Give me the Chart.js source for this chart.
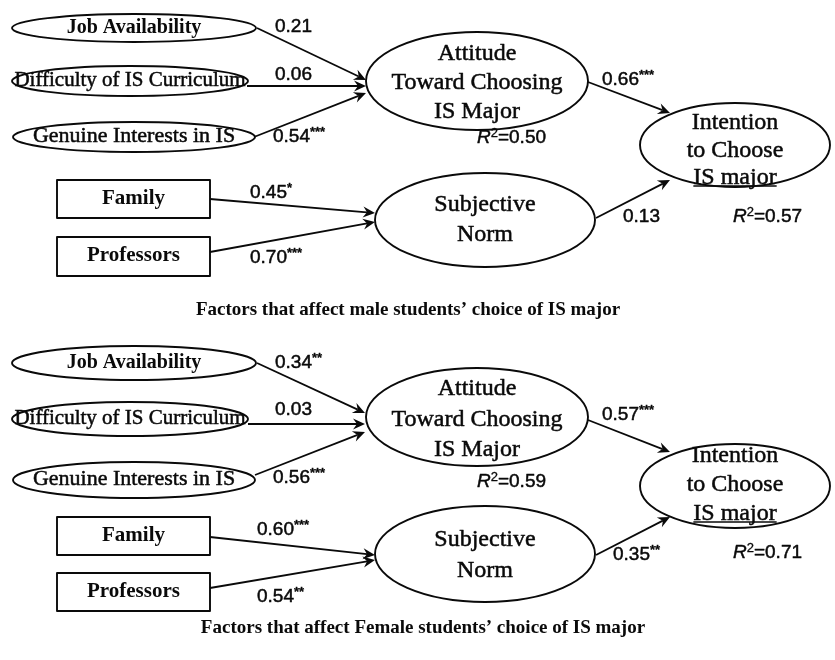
<!DOCTYPE html>
<html>
<head>
<meta charset="utf-8">
<script src="https://cdn.jsdelivr.net/npm/chart.js@4/dist/chart.umd.min.js"></script>
<style>
html,body{margin:0;padding:0;background:#fff;}
canvas{display:block;}
</style>
</head>
<body>
<canvas id="c" width="835" height="660"></canvas>
<script>
// ---------------- DATA ----------------
const panelTitles = [
  "Factors that affect male students\u2019 choice of IS major",
  "Factors that affect Female students\u2019 choice of IS major"
];
const nodeKeys = ["job", "diff", "gen", "fam", "prof", "att", "sn", "int"];
const nodeLabels = [
  ["Job Availability"],
  ["Difficulty of IS Curriculum"],
  ["Genuine Interests in IS"],
  ["Family"],
  ["Professors"],
  ["Attitude", "Toward Choosing", "IS Major"],
  ["Subjective", "Norm"],
  ["Intention", "to Choose", "IS major"]
];
const pathFrom = ["job", "diff", "gen", "fam", "prof", "att", "sn"];
const pathTo   = ["att", "att", "att", "sn", "sn", "int", "int"];
const maleCoef   = [0.21, 0.06, 0.54, 0.45, 0.70, 0.66, 0.13];
const maleSig    = ["", "", "***", "*", "***", "***", ""];
const femaleCoef = [0.34, 0.03, 0.56, 0.60, 0.54, 0.57, 0.35];
const femaleSig  = ["**", "", "***", "***", "**", "***", "**"];
const r2Nodes    = ["att", "int"];
const maleR2     = [0.50, 0.57];
const femaleR2   = [0.59, 0.71];

// ---------------- LAYOUT (diagram coordinates) ----------------
const layout = [
  { // male panel
    nodes: {
      job:  {shape:"ellipse", cx:134, cy:28,  rx:122, ry:14, lines:[28],  bold:true,  size:20},
      diff: {shape:"ellipse", cx:130, cy:81,  rx:118, ry:15, lines:[80],  bold:false, size:21},
      gen:  {shape:"ellipse", cx:134, cy:137, rx:121, ry:15, lines:[136], bold:false, size:22},
      fam:  {shape:"rect", x0:57, x1:210, y0:180, y1:218, lines:[199], bold:true, size:21},
      prof: {shape:"rect", x0:57, x1:210, y0:237, y1:276, lines:[256], bold:true, size:21},
      att:  {shape:"ellipse", cx:477, cy:81,  rx:111, ry:49, lines:[54, 83, 112], bold:false, size:24},
      sn:   {shape:"ellipse", cx:485, cy:220, rx:110, ry:47, lines:[205, 235], bold:false, size:24},
      int:  {shape:"ellipse", cx:735, cy:145, rx:95,  ry:42, lines:[123, 151, 178], bold:false, size:24, underlineLast:186}
    },
    arrows: [[257,28,366,80],[247,86,366,86],[254,137,366,93],[210,199,375,213],[210,252,375,222],[588,82,670,113],[596,218,670,180]],
    coefPos: [[275,27],[275,75],[273,137],[250,193],[250,258],[602,80],[623,217]],
    r2Pos: [[477,138],[733,217]],
    titlePos: [408,310]
  },
  { // female panel
    nodes: {
      job:  {shape:"ellipse", cx:134, cy:363, rx:122, ry:17, lines:[363], bold:true,  size:20},
      diff: {shape:"ellipse", cx:130, cy:419, rx:118, ry:17, lines:[418], bold:false, size:21},
      gen:  {shape:"ellipse", cx:134, cy:480, rx:121, ry:18, lines:[479], bold:false, size:22},
      fam:  {shape:"rect", x0:57, x1:210, y0:517, y1:555, lines:[536], bold:true, size:21},
      prof: {shape:"rect", x0:57, x1:210, y0:573, y1:611, lines:[592], bold:true, size:21},
      att:  {shape:"ellipse", cx:477, cy:417, rx:111, ry:49, lines:[389, 420, 450], bold:false, size:24},
      sn:   {shape:"ellipse", cx:485, cy:554, rx:110, ry:48, lines:[540, 571], bold:false, size:24},
      int:  {shape:"ellipse", cx:735, cy:486, rx:95,  ry:42, lines:[456, 485, 514], bold:false, size:24, underlineLast:522}
    },
    arrows: [[257,363,365,413],[248,424,365,424],[255,475,365,432],[210,537,375,555],[210,588,375,560],[588,420,670,452],[596,555,670,517]],
    coefPos: [[275,363],[275,410],[273,478],[257,530],[257,597],[602,415],[613,555]],
    r2Pos: [[477,482],[733,553]],
    titlePos: [423,628]
  }
];
const panelCoef = [maleCoef, femaleCoef];
const panelSig  = [maleSig, femaleSig];
const panelR2   = [maleR2, femaleR2];

const SERIF = "'Liberation Serif','Times New Roman',Times,serif";
const SANS  = "'Liberation Sans',Arial,Helvetica,sans-serif";
const INK = "#0a0a0a";

// anchor points (node centres) as a real dataset on the library's scales
const anchorPoints = [];
layout.forEach(p => nodeKeys.forEach(k => {
  const n = p.nodes[k];
  anchorPoints.push(n.shape === "rect" ? {x:(n.x0+n.x1)/2, y:(n.y0+n.y1)/2} : {x:n.cx, y:n.cy});
}));

function inkText(ctx, s, x, y, stroke) {
  ctx.fillText(s, x, y);
  if (stroke) {
    ctx.save();
    ctx.lineWidth = stroke;
    ctx.strokeText(s, x, y);
    ctx.restore();
  }
}

function drawArrowHead(ctx, x0, y0, x1, y1) {
  const ang = Math.atan2(y1 - y0, x1 - x0);
  const L = 12, W = 5.5, N = 4;
  ctx.save();
  ctx.translate(x1, y1);
  ctx.rotate(ang);
  ctx.beginPath();
  ctx.moveTo(0, 0);
  ctx.lineTo(-L, -W);
  ctx.lineTo(-L + N, 0);
  ctx.lineTo(-L, W);
  ctx.closePath();
  ctx.fill();
  ctx.restore();
}

function drawCoef(ctx, x, y, value, stars) {
  ctx.textBaseline = "middle";
  ctx.textAlign = "left";
  ctx.font = "19px " + SANS;
  const t = value.toFixed(2);
  inkText(ctx, t, x, y, 0.5);
  if (stars) {
    const w = ctx.measureText(t).width;
    ctx.font = "bold 13px " + SANS;
    inkText(ctx, stars, x + w, y - 5, 0.3);
  }
}

function drawR2(ctx, x, y, value) {
  ctx.textBaseline = "middle";
  ctx.textAlign = "left";
  ctx.font = "italic 19px " + SANS;
  inkText(ctx, "R", x, y, 0.5);
  let w = ctx.measureText("R").width;
  ctx.font = "13px " + SANS;
  inkText(ctx, "2", x + w, y - 5, 0.3);
  w += ctx.measureText("2").width;
  ctx.font = "19px " + SANS;
  inkText(ctx, "=" + value.toFixed(2), x + w, y, 0.5);
}

const diagramPlugin = {
  id: "pathDiagram",
  beforeDraw(chart) {
    const ctx = chart.ctx;
    ctx.save();
    ctx.fillStyle = "#fff";
    ctx.fillRect(0, 0, chart.width, chart.height);
    ctx.restore();
  },
  afterDatasetsDraw(chart) {
    const ctx = chart.ctx;
    const sx = chart.scales.x, sy = chart.scales.y;
    const X = v => sx.getPixelForValue(v);
    const Y = v => sy.getPixelForValue(v);
    ctx.save();
    ctx.strokeStyle = INK;
    ctx.fillStyle = INK;
    ctx.lineJoin = "round";

    layout.forEach((panel, pi) => {
      // nodes
      nodeKeys.forEach((k, ni) => {
        const n = panel.nodes[k];
        ctx.lineWidth = 1.9;
        ctx.beginPath();
        let cx;
        if (n.shape === "ellipse") {
          cx = X(n.cx);
          ctx.ellipse(X(n.cx), Y(n.cy), Math.abs(X(n.cx + n.rx) - X(n.cx)), Math.abs(Y(n.cy + n.ry) - Y(n.cy)), 0, 0, Math.PI * 2);
        } else {
          cx = X((n.x0 + n.x1) / 2);
          ctx.rect(X(n.x0), Y(n.y0), X(n.x1) - X(n.x0), Y(n.y1) - Y(n.y0));
        }
        ctx.stroke();
        ctx.font = (n.bold ? "bold " : "") + n.size + "px " + SERIF;
        ctx.textAlign = "center";
        ctx.textBaseline = "middle";
        const labels = nodeLabels[ni];
        labels.forEach((s, li) => {
          inkText(ctx, s, cx, Y(n.lines[li]), n.bold ? 0 : 0.5);
        });
        if (n.underlineLast) {
          const w = ctx.measureText(labels[labels.length - 1]).width;
          ctx.lineWidth = 1.5;
          ctx.beginPath();
          ctx.moveTo(cx - w / 2, Y(n.underlineLast));
          ctx.lineTo(cx + w / 2, Y(n.underlineLast));
          ctx.stroke();
        }
      });
      // arrows
      panel.arrows.forEach(a => {
        const x0 = X(a[0]), y0 = Y(a[1]), x1 = X(a[2]), y1 = Y(a[3]);
        ctx.lineWidth = 1.8;
        ctx.beginPath();
        ctx.moveTo(x0, y0);
        const ang = Math.atan2(y1 - y0, x1 - x0);
        ctx.lineTo(x1 - 8 * Math.cos(ang), y1 - 8 * Math.sin(ang));
        ctx.stroke();
        drawArrowHead(ctx, x0, y0, x1, y1);
      });
      // path coefficients
      panel.coefPos.forEach((p, i) => {
        drawCoef(ctx, X(p[0]), Y(p[1]), panelCoef[pi][i], panelSig[pi][i]);
      });
      // R squared
      panel.r2Pos.forEach((p, i) => {
        drawR2(ctx, X(p[0]), Y(p[1]), panelR2[pi][i]);
      });
      // caption
      ctx.font = "bold 19px " + SERIF;
      ctx.textAlign = "center";
      ctx.textBaseline = "middle";
      inkText(ctx, panelTitles[pi], X(panel.titlePos[0]), Y(panel.titlePos[1]), 0);
    });
    ctx.restore();
  }
};

new Chart(document.getElementById("c"), {
  type: "scatter",
  data: { datasets: [{ data: anchorPoints, pointRadius: 0, pointHoverRadius: 0 }] },
  options: {
    responsive: false,
    animation: false,
    events: [],
    layout: { padding: 0 },
    plugins: { legend: { display: false }, tooltip: { enabled: false } },
    scales: {
      x: { type: "linear", min: 0, max: 835, display: false },
      y: { type: "linear", min: 0, max: 660, reverse: true, display: false }
    }
  },
  plugins: [diagramPlugin]
});
</script>
</body>
</html>
